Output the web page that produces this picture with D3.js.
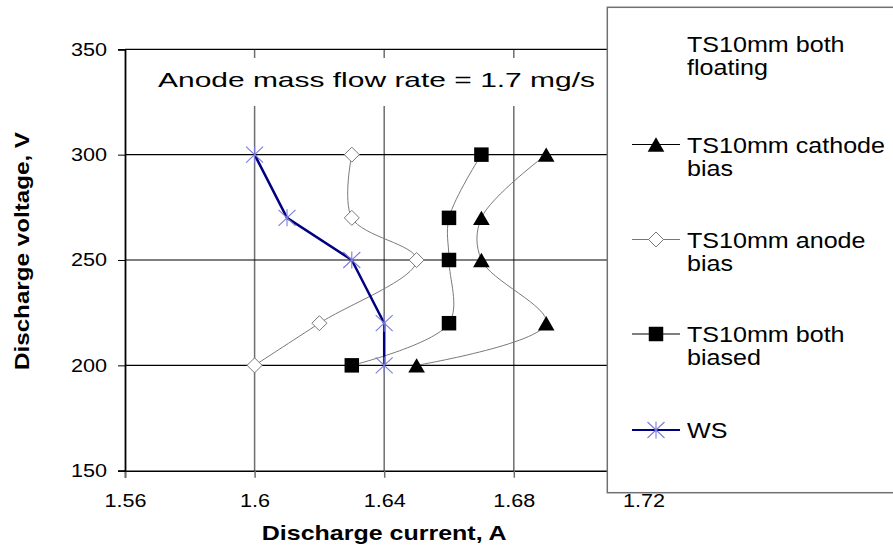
<!DOCTYPE html>
<html>
<head>
<meta charset="utf-8">
<script src="https://cdn.jsdelivr.net/npm/d3@7"></script>
<style>
  body { margin: 0; background: #fff; }
  text { font-family: Arial, "Liberation Sans", sans-serif; fill: #000; }
</style>
</head>
<body>
<script>
// data
const voltages = [200, 220, 250, 270, 300];
const floatingCurrent = [];                       // legend only, no points drawn
const cathodeCurrent = [1.65, 1.69, 1.67, 1.67, 1.69];
const anodeCurrent   = [1.60, 1.62, 1.65, 1.63, 1.63];
const biasedCurrent  = [1.63, 1.66, 1.66, 1.66, 1.67];
const wsCurrent      = [1.64, 1.64, 1.63, 1.61, 1.60];

const xTicks = [1.56, 1.6, 1.64, 1.68, 1.72];
const yTicks = [150, 200, 250, 300, 350];

const seriesNames = ["TS10mm both floating", "TS10mm cathode bias", "TS10mm anode bias",
                     "TS10mm both biased", "WS"];

const seriesList = [
  {name: seriesNames[0], values: floatingCurrent, kind: null, line: "#777", width: 1, smooth: true},
  {name: seriesNames[1], values: cathodeCurrent, kind: "triangle", line: "#7a7a7a", width: 1, smooth: true},
  {name: seriesNames[2], values: anodeCurrent, kind: "diamond", line: "#7a7a7a", width: 1, smooth: true},
  {name: seriesNames[3], values: biasedCurrent, kind: "square", line: "#7a7a7a", width: 1, smooth: true},
  {name: seriesNames[4], values: wsCurrent, kind: "star", line: "#000080", width: 2.5, smooth: false}
];

let svg = null;
let x, y = null;

const W = 893, H = 555;
const plot = {left: 125, top: 49.3, right: 643.4, bottom: 470.7};
const legendBaselines = [52.3, 152.5, 247.5, 342, 438];

// stretch text horizontally, the original picture is wider than Arial
function stretch(sel, sx) {
  sel.each(function () {
    const w = this.getComputedTextLength();
    d3.select(this).attr("textLength", w * sx).attr("lengthAdjust", "spacingAndGlyphs");
  });
}

setupScales();
appendSvg("body");
drawGrid();
drawAxes();
drawTitle();
drawSeries();
drawLegend();

function setupScales() {
  x = d3.scaleLinear().domain([1.56, 1.72]).range([plot.left, plot.right]);
  y = d3.scaleLinear().domain([150, 350]).range([plot.bottom, plot.top]);
}

function appendSvg(domElement) {
  svg = d3.select(domElement).append("svg")
    .attr("width", W)
    .attr("height", H);
}

function drawGrid() {
  svg.append("g").selectAll("line")
    .data(xTicks.slice(1))
    .enter().append("line")
      .attr("x1", d => x(d)).attr("x2", d => x(d))
      .attr("y1", plot.top).attr("y2", plot.bottom)
      .attr("stroke", "#6e6e6e").attr("stroke-width", 1.5);

  svg.append("g").selectAll("line")
    .data(yTicks.slice(1))
    .enter().append("line")
      .attr("x1", plot.left).attr("x2", plot.right)
      .attr("y1", d => y(d)).attr("y2", d => y(d))
      .attr("stroke", "#000").attr("stroke-width", 1.2);
}

function drawAxes() {
  const xAxis = d3.axisBottom(x).tickValues(xTicks).tickSize(7).tickPadding(17)
    .tickFormat(d => String(d));
  const gx = svg.append("g")
    .attr("transform", `translate(0, ${plot.bottom})`)
    .call(xAxis);
  gx.select(".domain").attr("stroke", "#000").attr("stroke-width", 1.5);
  gx.selectAll(".tick line").attr("stroke", "#6e6e6e").attr("stroke-width", 1.5);
  gx.selectAll("text").attr("font-size", 18).attr("font-family", "Arial, 'Liberation Sans'")
    .call(stretch, 1.2);

  const yAxis = d3.axisLeft(y).tickValues(yTicks).tickSize(7).tickPadding(11);
  const gy = svg.append("g")
    .attr("transform", `translate(${plot.left}, 0)`)
    .call(yAxis);
  gy.select(".domain").attr("stroke", "#000").attr("stroke-width", 1.8);
  gy.selectAll(".tick line").attr("stroke", "#000");
  gy.selectAll("text").attr("font-size", 18).attr("font-family", "Arial, 'Liberation Sans'")
    .call(stretch, 1.2);

  svg.append("text")
    .attr("x", (plot.left + plot.right) / 2)
    .attr("y", 540)
    .attr("text-anchor", "middle")
    .attr("font-size", 21)
    .attr("font-weight", "bold")
    .text("Discharge current, A")
    .call(stretch, 1.19);

  svg.append("text")
    .attr("transform", `translate(29, 251) rotate(-90)`)
    .attr("text-anchor", "middle")
    .attr("font-size", 20.5)
    .attr("font-weight", "bold")
    .text("Discharge voltage, V")
    .call(stretch, 1.18);
}

function drawTitle() {
  svg.append("rect")
    .attr("x", 150).attr("y", 58).attr("width", 452).attr("height", 48)
    .attr("fill", "#fff");
  svg.append("text")
    .attr("x", 158).attr("y", 87)
    .attr("font-size", 21)
    .text("Anode mass flow rate = 1.7 mg/s")
    .attr("textLength", 437).attr("lengthAdjust", "spacingAndGlyphs");
}

function symbolPath(kind) {
  if (kind === "triangle") return d3.symbol(d3.symbolTriangle, 120)();
  if (kind === "square") return d3.symbol(d3.symbolSquare, 210)();
  if (kind === "diamond") return "M0,-7.5L7.5,0L0,7.5L-7.5,0Z";
  if (kind === "star") return "M-8.5,-8L8.5,8M-8.5,8L8.5,-8M0,-8.5L0,8.5";
  return null;
}

// triangle is drawn round its centroid, shift so its box sits on the point
function markerShift(kind) {
  return kind === "triangle" ? 2.4 : 0;
}

function styleMarker(sel, kind) {
  if (kind === "triangle" || kind === "square") {
    sel.attr("fill", "#000").attr("stroke", "none");
  } else if (kind === "diamond") {
    sel.attr("fill", "#fff").attr("stroke", "#777").attr("stroke-width", 1);
  } else if (kind === "star") {
    sel.attr("fill", "none").attr("stroke", "#7c7cd6").attr("stroke-width", 1.1);
  }
}

function drawSeries() {
  seriesList.forEach(s => {
    const pts = s.values.map((c, i) => ({c: c, v: voltages[i]}));
    if (!pts.length) return;
    const line = d3.line()
      .x(d => x(d.c)).y(d => y(d.v))
      .curve(s.smooth ? d3.curveCatmullRom.alpha(0.5) : d3.curveLinear);
    svg.append("path")
      .datum(pts)
      .attr("d", line)
      .attr("fill", "none")
      .attr("stroke", s.line)
      .attr("stroke-width", s.width);

    svg.append("g").selectAll("path")
      .data(pts)
      .enter().append("path")
        .attr("d", symbolPath(s.kind))
        .attr("transform", d => `translate(${x(d.c)}, ${y(d.v) + markerShift(s.kind)})`)
        .call(styleMarker, s.kind);
  });
}

function drawLegend() {
  const lg = svg.append("g");
  lg.append("rect")
    .attr("x", 607.3).attr("y", 7.3).attr("width", 300).attr("height", 485.4)
    .attr("fill", "#fff").attr("stroke", "#707070").attr("stroke-width", 1.5);

  const entry = lg.selectAll("g.entry")
    .data(seriesList)
    .enter().append("g")
      .attr("class", "entry")
      .attr("transform", (d, i) => `translate(0, ${legendBaselines[i] - 8})`);

  entry.filter(d => d.kind)
    .append("line")
      .attr("x1", 632).attr("x2", 680).attr("y1", 0).attr("y2", 0)
      .attr("stroke", d => d.kind === "diamond" ? "#777" : (d.kind === "star" ? d.line : "#000"))
      .attr("stroke-width", d => d.kind === "star" ? 2 : 1.2);

  entry.filter(d => d.kind)
    .append("path")
      .attr("transform", d => `translate(656, ${markerShift(d.kind)})`)
      .attr("d", d => symbolPath(d.kind))
      .each(function (d) { d3.select(this).call(styleMarker, d.kind); });

  entry.each(function (d) {
    const words = d.name.split(" ");
    const lines = words.length > 2 ? [words.slice(0, 2).join(" "), words.slice(2).join(" ")] : [d.name];
    const g = d3.select(this);
    lines.forEach((t, k) => {
      g.append("text")
        .attr("x", 687)
        .attr("y", 8 + k * 23)
        .attr("font-size", 22.5)
        .text(t)
        .call(stretch, 1.115);
    });
  });
}
</script>
</body>
</html>
